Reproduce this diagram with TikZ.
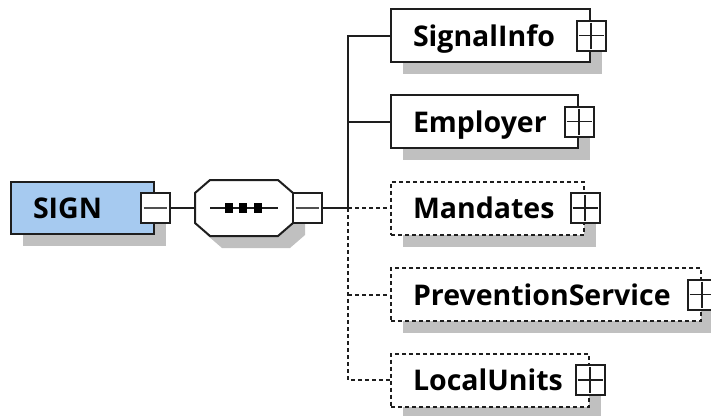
\documentclass[tikz,border=0pt]{standalone}
\usepackage{fontspec}
\setmainfont{Open Sans}
\usetikzlibrary{shadows}
\definecolor{ln}{RGB}{30,30,30}
\definecolor{shd}{RGB}{192,192,192}
\definecolor{signblue}{RGB}{166,202,240}
\definecolor{mid}{RGB}{80,80,80}
\tikzset{
  x=1pt, y=-1pt,
  el/.style={draw=ln, line width=2pt, fill=white, inner xsep=22pt, inner ysep=0pt,
    minimum height=53pt, text height=21pt, text depth=0pt, align=left,
    font=\fontsize{28.5}{31}\selectfont\bfseries, anchor=west,
    drop shadow={fill=shd, opacity=1, shadow xshift=12pt, shadow yshift=-12pt}},
  opt/.style={el, dash pattern=on 4pt off 3pt},
  plusbox/.style={draw=ln, line width=2pt, fill=white, minimum width=29pt, minimum height=30pt, inner sep=0pt,
    path picture={
      \draw[ln, line width=1.8pt] ([xshift=2pt]path picture bounding box.west) -- ([xshift=-2pt]path picture bounding box.east);
      \draw[ln, line width=1.8pt] ([yshift=-2pt]path picture bounding box.north) -- ([yshift=2pt]path picture bounding box.south);
    }},
  minusbox/.style={draw=ln, line width=2pt, fill=white, minimum width=29pt, minimum height=30pt, inner sep=0pt,
    path picture={
      \draw[mid, line width=2pt] ([xshift=3pt]path picture bounding box.west) -- ([xshift=-3pt]path picture bounding box.east);
    }},
  conn/.style={draw=ln, line width=2pt},
  dconn/.style={conn, dash pattern=on 4pt off 3pt},
}
\begin{document}
\begin{tikzpicture}
\useasboundingbox (0,0) rectangle (711,415);
% root element
\node[el, fill=signblue, text width=99pt, minimum height=52pt] (sign) at (10,208) {SIGN};
\node[minusbox] (signmin) at (sign.east) {};
% sequence compositor
\fill[shd] (207,192) -- (222,192) -- (290,192) -- (305,205) -- (305,235) -- (290,248) -- (222,248) -- (207,235) -- cycle;
\draw[ln, line width=2pt, fill=white] (195,193) -- (210,180) -- (278,180) -- (293,193) -- (293,223) -- (278,236) -- (210,236) -- (195,223) -- cycle;
\coordinate (seqL) at (195,208);
\coordinate (seqR) at (293,208);
\draw[ln, line width=2pt] (210,208) -- (278,208);
\fill[black] (224.5,203) rectangle (232.5,213);
\fill[black] (239,203) rectangle (247,213);
\fill[black] (253.5,203) rectangle (261.5,213);
\node[minusbox] (seqmin) at (307,208) {};
\coordinate (trunk) at (348,208);
% children
\node[el, text width=155pt] (sig) at (390,35.5) {SignalInfo};
\node[plusbox] at (sig.east) {};
\node[el, text width=143pt] (emp) at (390,121.5) {Employer};
\node[plusbox] at (emp.east) {};
\node[opt, text width=149pt] (man) at (390,208) {Mandates};
\node[plusbox] at (man.east) {};
\node[opt, text width=266pt] (prev) at (390,294.5) {PreventionService};
\node[plusbox] at (prev.east) {};
\node[opt, text width=154pt] (loc) at (390,380) {LocalUnits};
\node[plusbox] at (loc.east) {};
% connectors
\draw[conn] (signmin.east) -- (seqL);
\draw[conn] (seqmin.east) -- (trunk);
\draw[conn] (sig.west) -| (trunk);
\draw[conn] (emp.west) -- (emp.west -| trunk);
\draw[dconn] (trunk) -- (man.west);
\draw[dconn] (trunk) |- (loc.west);
\draw[dconn] (trunk |- prev.west) -- (prev.west);
\end{tikzpicture}
\end{document}
